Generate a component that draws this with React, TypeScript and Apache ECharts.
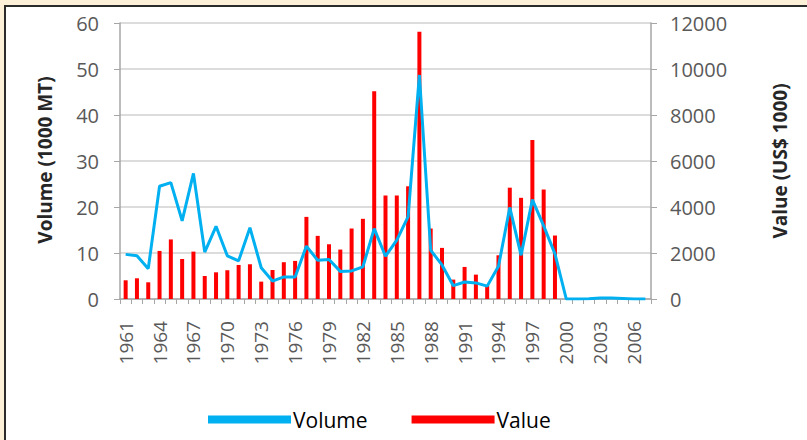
import React, { useEffect, useRef } from "react";
import * as echarts from "echarts";

const years: string[] = [];
for (let y = 1961; y <= 2007; y++) years.push(String(y));

// Volume (1000 MT), left axis
const volume = [
  9.7, 9.4, 6.6, 24.5, 25.3, 17.0, 27.3, 10.2, 15.8, 9.4,
  8.3, 15.5, 6.8, 3.9, 4.8, 4.8, 11.5, 8.4, 8.6, 6.0,
  6.1, 7.0, 15.3, 9.3, 12.8, 17.9, 48.7, 10.6, 7.4, 2.9,
  3.7, 3.5, 2.8, 7.1, 19.9, 9.5, 21.6, 15.9, 9.8, 0,
  0, 0.05, 0.2, 0.2, 0.1, 0, 0,
];

// Value (US$ 1000), right axis
const value = [
  813, 900, 726, 2090, 2590, 1740, 2060, 1000, 1160, 1250,
  1480, 1510, 755, 1260, 1600, 1656, 3570, 2745, 2380, 2150,
  3065, 3486, 9030, 4500, 4500, 4900, 11620, 3065, 2222, 843,
  1394, 1060, 600, 1900, 4840, 4400, 6910, 4760, 2760, 0,
  0, 0, 0, 0, 0, 0, 0,
];

const leftTicks = { min: 0, max: 60, interval: 10 };
const rightTicks = { min: 0, max: 12000, interval: 2000 };

const leftTitle = "Volume (1000 MT)";
const rightTitle = "Value (US$ 1000)";

const FONT = "'Open Sans', 'Liberation Sans', sans-serif";

export default function App() {
  const ref = useRef<HTMLDivElement>(null);
  useEffect(() => {
    if (!ref.current) return;
    const chart = echarts.init(ref.current, undefined, { renderer: "svg" });
    chart.setOption({
      animation: false,
      backgroundColor: "transparent",
      textStyle: { fontFamily: FONT },
      grid: { left: 120, right: 156, top: 23, bottom: 141 },
      legend: {
        left: 203,
        top: 404,
        itemWidth: 83,
        itemHeight: 8,
        itemGap: 44,
        icon: "rect",
        textStyle: { fontSize: 21, color: "#000", fontFamily: FONT, padding: [0, 0, 0, -3] },
        data: ["Volume", "Value"],
      },
      graphic: [
        {
          type: "text",
          x: 45,
          y: 160,
          rotation: Math.PI / 2,
          style: {
            text: leftTitle,
            fontSize: 19,
            fontWeight: "bold",
            fill: "#262626",
            fontFamily: FONT,
            align: "center",
            verticalAlign: "middle",
          },
        },
        {
          type: "text",
          x: 780,
          y: 161,
          rotation: Math.PI / 2,
          style: {
            text: rightTitle,
            fontSize: 19,
            fontWeight: "bold",
            fill: "#262626",
            fontFamily: FONT,
            align: "center",
            verticalAlign: "middle",
          },
        },
      ],
      xAxis: {
        type: "category",
        data: years,
        boundaryGap: true,
        axisLine: { lineStyle: { color: "#a6a6a6", width: 1.5 } },
        axisTick: { show: true, interval: 0, length: 5, lineStyle: { color: "#a6a6a6" } },
        axisLabel: {
          interval: 2,
          rotate: 90,
          margin: 22,
          fontSize: 19,
          color: "#595959",
          fontFamily: FONT,
        },
      },
      yAxis: [
        {
          type: "value",
          ...leftTicks,
          axisLine: { show: true, lineStyle: { color: "#a6a6a6", width: 1.5 } },
          axisTick: { show: true, length: 6, lineStyle: { color: "#a6a6a6" } },
          axisLabel: { fontSize: 20, color: "#595959", margin: 21, fontFamily: FONT },
          splitLine: { lineStyle: { color: "#d0d0d0", width: 1.5 } },
        },
        {
          type: "value",
          ...rightTicks,
          axisLine: { show: true, lineStyle: { color: "#a6a6a6", width: 1.5 } },
          axisTick: { show: true, length: 6, lineStyle: { color: "#a6a6a6" } },
          axisLabel: {
            fontSize: 20,
            color: "#595959",
            margin: 19,
            fontFamily: FONT,
            formatter: (v: number) => String(v),
          },
          splitLine: { show: false },
        },
      ],
      series: [
        {
          name: "Value",
          type: "bar",
          yAxisIndex: 1,
          data: value,
          barWidth: 4,
          itemStyle: { color: "#ff0000" },
          z: 2,
        },
        {
          name: "Volume",
          type: "line",
          yAxisIndex: 0,
          data: volume,
          symbol: "none",
          lineStyle: { color: "#00b0f0", width: 3 },
          itemStyle: { color: "#00b0f0" },
          z: 3,
        },
      ],
    });
    return () => chart.dispose();
  }, []);

  return (
    <div style={{ position: "fixed", left: 0, top: 0, width: 807, height: 440, background: "#fcf0d8", overflow: "hidden" }}>
      <div
        style={{
          position: "absolute",
          left: 4,
          top: 5,
          width: 820,
          height: 450,
          background: "#ffffff",
          borderLeft: "2px solid #2b2b2b",
          borderTop: "2px solid #2b2b2b",
        }}
      />
      <div ref={ref} style={{ position: "absolute", left: 0, top: 0, width: 807, height: 440 }} />
    </div>
  );
}
